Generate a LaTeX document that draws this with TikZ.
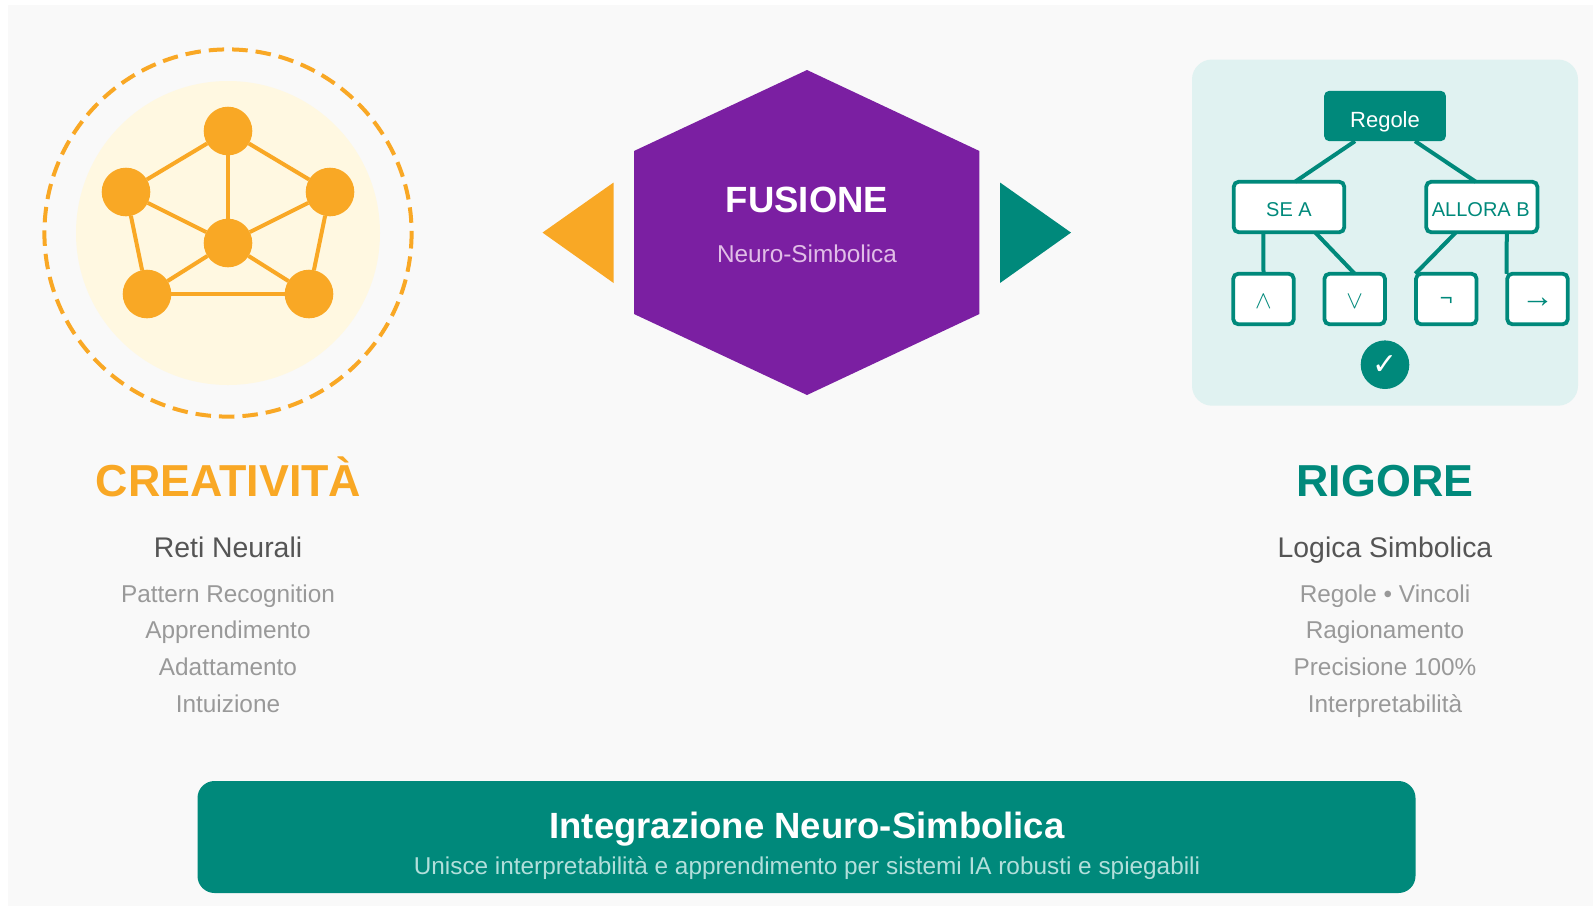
\documentclass[tikz,border=0pt]{standalone}
\usepackage{fontspec}
\setmainfont{Liberation Sans}
\newfontfamily\symfont{DejaVu Sans}
\definecolor{bgGray}{HTML}{F9F9F9}
\definecolor{orangeC}{HTML}{F9A825}
\definecolor{paleC}{HTML}{FFF8E1}
\definecolor{tealC}{HTML}{00897B}
\definecolor{panelC}{HTML}{E0F2F1}
\definecolor{purpleC}{HTML}{7B1FA2}
\definecolor{lilacC}{HTML}{E1BEE7}
\definecolor{darkText}{HTML}{555555}
\definecolor{greyText}{HTML}{999999}
\definecolor{mintText}{HTML}{B2DFDB}
\newcommand{\fs}[1]{\fontsize{#1}{#1}\selectfont}
\newcommand{\drop}[2]{\raisebox{-#1pt}[0pt][0pt]{#2}}
\begin{document}
\begin{tikzpicture}[x=1pt,y=-1pt]
\tikzstyle{every node}+=[inner sep=0pt,outer sep=0pt]
\tikzstyle{neuron}=[circle,fill=orangeC,minimum size=48.6pt]
\tikzstyle{synapse}=[draw=orangeC,line width=4pt]
\tikzstyle{branch}=[draw=tealC,line width=4pt]
\tikzstyle{rulebox}=[draw=tealC,fill=white,line width=3.8pt,rounded corners=5pt,minimum height=50.5pt,text=tealC,font=\fs{20}]
\tikzstyle{opbox}=[rulebox,minimum width=60.5pt]
\tikzstyle{title}=[anchor=base,font=\bfseries\fs{44.8}]
\tikzstyle{subtitle}=[anchor=base,text=darkText,font=\fs{28.4}]
\tikzstyle{detail}=[anchor=base,text=greyText,font=\fs{24.35}]
\useasboundingbox (0,0) rectangle (1593,906);
\fill [bgGray] (8,5) rectangle (1593,906);
\fill [paleC] (228,233) circle (152);
\draw [orangeC,line width=4pt,dash pattern=on 15.5pt off 8pt] (228,233) circle (183.6);
\node [neuron] (top) at (228,131) {};
\node [neuron] (left) at (126,192) {};
\node [neuron] (right) at (330,192) {};
\node [neuron] (mid) at (228,243) {};
\node [neuron] (lowleft) at (147,294) {};
\node [neuron] (lowright) at (309,294) {};
\draw [synapse] (top) -- (left);
\draw [synapse] (top) -- (right);
\draw [synapse] (top) -- (mid);
\draw [synapse] (left) -- (mid);
\draw [synapse] (right) -- (mid);
\draw [synapse] (left) -- (lowleft);
\draw [synapse] (right) -- (lowright);
\draw [synapse] (lowleft) -- (mid);
\draw [synapse] (lowright) -- (mid);
\draw [synapse] (lowleft) -- (lowright);
\fill [orangeC] (542.5,232.6) -- (613.6,182.5) -- (613.6,283) -- cycle;
\fill [tealC] (1071,232.6) -- (1000,182.5) -- (1000,283) -- cycle;
\fill [purpleC] (807,70) -- (979.4,151) -- (979.4,314) -- (807,395) -- (634,314) -- (634,151) -- cycle;
\node (fusion) [anchor=base,text=white,font=\bfseries\fs{36.5}] at (807,212) {FUSIONE};
\node (fusionsub) [anchor=base,text=lilacC,font=\fs{24.35}] at (807,262) {Neuro-Simbolica};
\fill [panelC,rounded corners=20pt] (1192,59.5) rectangle (1578,405.7);
\node (regole) [fill=tealC,rounded corners=5pt,minimum width=121.7pt,minimum height=50.3pt] at (1385,116) {};
\node (regoletext) [anchor=base,text=white,font=\fs{22}] at (1385,127) {Regole};
\node [rulebox,minimum width=110.5pt] (sea) at (1289,207) {\drop{9}{SE A}};
\node [rulebox,minimum width=111.2pt] (allora) at (1481.8,207) {\drop{9}{\hspace{-2pt}ALLORA B}};
\node [opbox] (andbox) at (1263.5,299) {\drop{9}{\fs{28}$\wedge$}};
\node [opbox] (orbox) at (1354.7,299) {\drop{9}{\fs{28}$\vee$}};
\node [opbox] (notbox) at (1446.3,299) {\drop{6}{\fs{22}¬}};
\node [opbox] (impbox) at (1537.5,299) {\drop{8}{\fs{33}→}};
\draw [branch] ([xshift=-30pt]regole.south) -- ([xshift=6pt]sea.north);
\draw [branch] ([xshift=30pt]regole.south) -- ([xshift=-6pt]allora.north);
\draw [branch] ([xshift=-25.7pt]sea.south) -- (andbox.north);
\draw [branch] ([xshift=26pt]sea.south) -- (orbox.north);
\draw [branch] ([xshift=-25.8pt]allora.south) -- ([xshift=-31pt]notbox.north);
\draw [branch] ([xshift=25pt]allora.south) -- ([xshift=-31pt]impbox.north);
\node (checkmark) [circle,fill=tealC,minimum size=48.6pt,text=white,font=\symfont\fs{30}] at (1385,364.7) {✓};
\node [title,text=orangeC] (creativity) at (228.5,496) {CREATIVITÀ};
\node [subtitle] (retitext) at (228,557.5) {Reti Neurali};
\node [detail] (pattern) at (228,602) {Pattern Recognition};
\node [detail] (learn) at (228,638.5) {Apprendimento};
\node [detail] (adapt) at (228,675) {Adattamento};
\node [detail] (intuit) at (228,712) {Intuizione};
\node [title,text=tealC] (rigor) at (1385,496) {RIGORE};
\node [subtitle] (logictext) at (1385,557.5) {Logica Simbolica};
\node [detail] (rules) at (1385,602) {Regole • Vincoli};
\node [detail] (reason) at (1385,638.5) {Ragionamento};
\node [detail] (precise) at (1385,675) {Precisione 100\%};
\node [detail] (explain) at (1385,712) {Interpretabilità};
\fill [tealC,rounded corners=17pt] (197.5,781) rectangle (1415.5,893);
\node (bannertitle) [anchor=base,text=white,font=\bfseries\fs{36.5}] at (807,838) {Integrazione Neuro-Simbolica};
\node (bannertext) [anchor=base,text=mintText,font=\fs{24.35}] at (807,874) {Unisce interpretabilità e apprendimento per sistemi IA robusti e spiegabili};
\end{tikzpicture}
\end{document}
